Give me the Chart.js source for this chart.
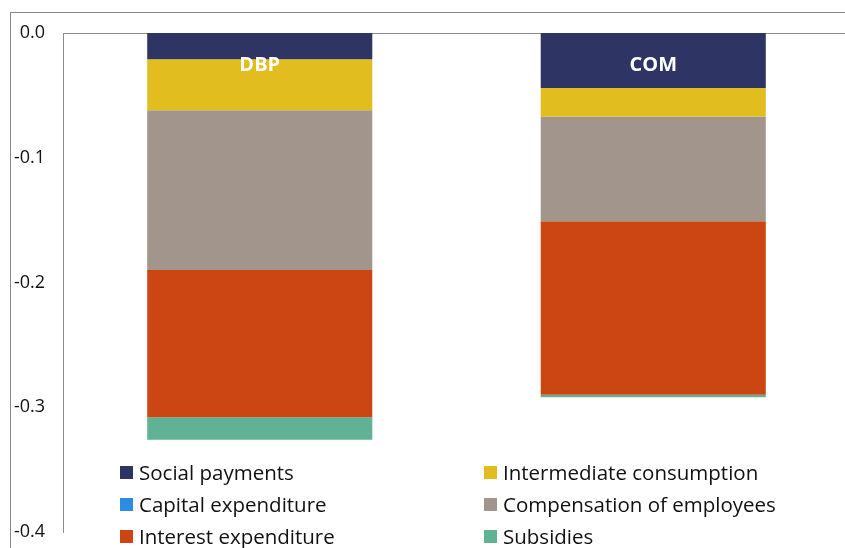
<!DOCTYPE html>
<html>
<head>
<meta charset="utf-8">
<script src="https://cdn.jsdelivr.net/npm/chart.js@4/dist/chart.umd.min.js"></script>
<style>
  body { margin: 0; overflow: hidden; background: #fff; font-family: "Open Sans", sans-serif; }
  #wrap { position: relative; width: 845px; height: 548px; overflow: hidden; }
  #frame { position: absolute; left: 10px; top: 12px; width: 900px; height: 600px; border: 1px solid #8a8a8a; }
  canvas { position: absolute; left: 0; top: 0; }
  #legend { position: absolute; left: 120px; top: 456px; display: grid;
    grid-template-columns: 364px 340px; grid-auto-rows: 32px; font-size: 20.5px; color: #111; }
  .item { display: flex; align-items: center; white-space: nowrap; }
  .box { width: 13px; height: 13px; margin-right: 6px; flex: none; }
</style>
</head>
<body>
<div id="wrap">
  <div id="frame"></div>
  <canvas id="chart" width="850" height="548"></canvas>
  <div id="legend"></div>
</div>
<script>
const categories = ["DBP", "COM"];
const seriesNames = [
  "Social payments",
  "Intermediate consumption",
  "Capital expenditure",
  "Compensation of employees",
  "Interest expenditure",
  "Subsidies",
];
const socialPayments = [-0.021, -0.044];
const intermediateConsumption = [-0.041, -0.023];
const capitalExpenditure = [0, 0];
const compensationOfEmployees = [-0.128, -0.084];
const interestExpenditure = [-0.118, -0.139];
const subsidies = [-0.018, -0.002];
const yTicks = [0, -0.1, -0.2, -0.3, -0.4];

const colors = ["#2e3464", "#e2bd1f", "#2b8ce0", "#a2968c", "#cc4614", "#5fb294"];
const values = [
  socialPayments,
  intermediateConsumption,
  capitalExpenditure,
  compensationOfEmployees,
  interestExpenditure,
  subsidies,
];

// white category names drawn inside the top of each bar
const barLabels = {
  id: "barLabels",
  afterDatasetsDraw(chart) {
    const { ctx, chartArea } = chart;
    const x = chart.scales.x;
    ctx.save();
    ctx.font = "bold 20px 'Open Sans'";
    ctx.fillStyle = "#fff";
    ctx.textAlign = "center";
    ctx.textBaseline = "middle";
    categories.forEach((c, i) => {
      ctx.fillText(c, x.getPixelForValue(i), chartArea.top + 32);
    });
    ctx.restore();
  },
};

const chart = new Chart(document.getElementById("chart"), {
  type: "bar",
  data: {
    labels: categories,
    datasets: seriesNames.map((name, i) => ({
      label: name,
      data: values[i],
      backgroundColor: colors[i],
      borderWidth: 0,
      barPercentage: 0.572,
      categoryPercentage: 1,
    })),
  },
  options: {
    responsive: false,
    animation: false,
    layout: { padding: { top: 33, bottom: 16, left: 0, right: 0 } },
    plugins: { legend: { display: false }, tooltip: { enabled: false } },
    scales: {
      x: {
        stacked: true,
        position: "top",
        grid: { display: false },
        border: { display: true, color: "#8c8c8c", width: 1 },
        ticks: { display: false },
        afterFit: (s) => { s.height = 0; },
      },
      y: {
        stacked: true,
        min: Math.min(...yTicks),
        max: Math.max(...yTicks),
        grid: { display: false, drawTicks: false },
        border: { display: true, color: "#8c8c8c", width: 1 },
        afterBuildTicks: (s) => { s.ticks = yTicks.map((v) => ({ value: v })); },
        afterFit: (s) => {
          s.width = 63;
          s.paddingTop = 0;
          s.paddingBottom = 0;
        },
        ticks: {
          padding: 18,
          color: "#111",
          font: { family: "'Open Sans'", size: 18 },
          callback: (v) => Number(v).toFixed(1),
        },
      },
    },
  },
  plugins: [barLabels],
});

const legend = document.getElementById("legend");
seriesNames.forEach((name, i) => {
  const item = document.createElement("div");
  item.className = "item";
  item.innerHTML = `<span class="box" style="background:${colors[i]}"></span><span>${name}</span>`;
  legend.appendChild(item);
});
</script>
</body>
</html>
